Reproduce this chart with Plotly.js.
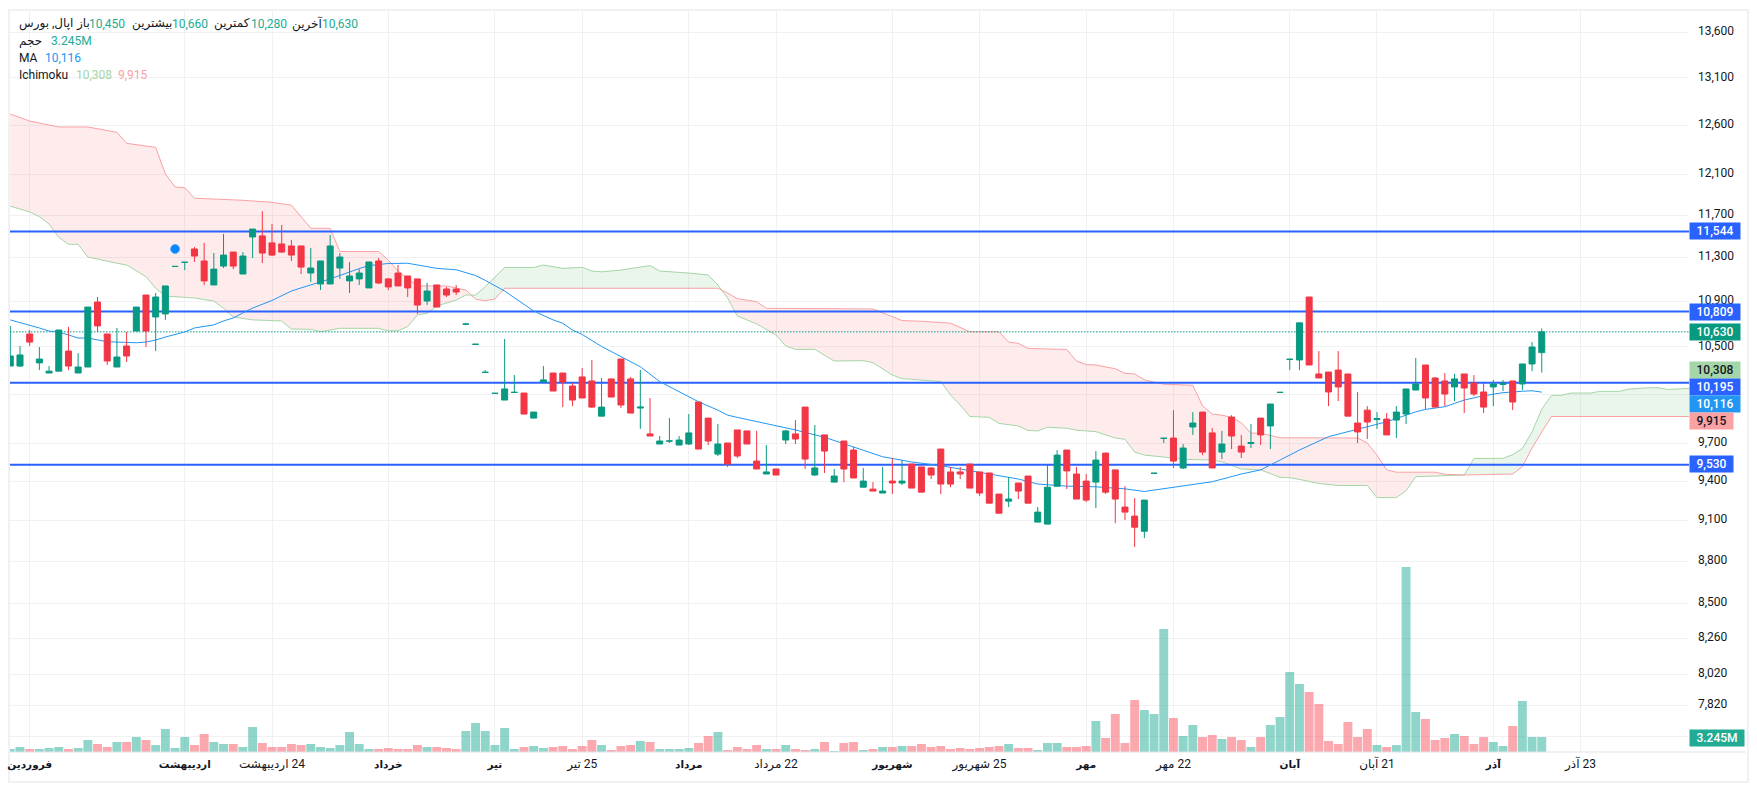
<!DOCTYPE html>
<html><head><meta charset="utf-8">
<script src="https://cdn.plot.ly/plotly-3.0.1.min.js"></script>
<style>
html,body{margin:0;padding:0;background:#fff;overflow:hidden}
#frame{position:absolute;left:8px;top:9px;width:1737px;height:770px;border:2px solid #f0f1f5}
#chart{position:absolute;left:0;top:0;width:1757px;height:790px}
</style></head><body><div id="frame"></div><div id="chart"></div>
<script>
const opens=[10335,10335,10611,10362,10276,10292,10463,10276,10327,10894,
10611,10327,10507,10637,10957,10761,10788,11217,11255,11380,
11268,11048,11221,11351,11148,11493,11503,11437,11427,11408,
11408,11157,11057,11057,11203,11085,11103,11021,11268,11103,
11157,11130,11103,10903,11048,11011,11011,10697,10521,10281,
10105,10050,10113,10108,9902,10201,10276,10276,10167,10243,
10209,9918,10226,10395,10226,9984,9774,9693,9717,9685,
9693,10034,9902,9613,9701,9806,9798,9558,9457,9496,
9725,9774,9992,9449,9766,9394,9717,9645,9355,9340,
9310,9402,9387,9535,9512,9504,9653,9473,9473,9535,
9473,9465,9302,9248,9387,9441,9090,9075,9362,9645,
9457,9402,9394,9621,9489,9203,9135,9022,9462,9738,
9741,9504,9830,9951,9782,9629,9910,9677,9697,9902,
9838,10113,10392,10387,10939,10268,10284,10301,10268,9862,
9967,9890,9894,9886,9935,10133,10344,10234,10209,10159,
10268,10192,10117,10159,10180,10209,10184,10353,10450];
const highs=[10682,10507,10646,10498,10335,10646,10673,10446,10849,10939,
10611,10664,10629,10849,10957,10975,11039,11218,11256,11399,
11437,11342,11521,11351,11351,11568,11739,11616,11607,11465,
11408,11389,11268,11512,11342,11259,11193,11259,11296,11112,
11231,11130,11103,11066,11048,11030,11048,10709,10522,10301,
10106,10568,10259,10108,9951,10335,10276,10276,10192,10318,
10387,10234,10226,10395,10243,10301,10067,9757,9902,9757,
9935,10034,9902,9854,9701,9806,9798,9798,9685,9496,
9806,9886,9992,9846,9766,9496,9717,9669,9504,9394,
9512,9582,9566,9535,9512,9512,9653,9512,9512,9535,
9473,9465,9302,9433,9387,9441,9203,9527,9645,9645,
9512,9457,9637,9621,9489,9363,9271,9256,9463,9739,
9967,9693,9951,9951,9822,9798,9926,9766,9854,9902,
10017,10114,10393,10709,10939,10463,10284,10463,10268,10117,
10000,9951,9943,10000,10142,10404,10344,10243,10276,10268,
10268,10259,10192,10218,10218,10209,10353,10541,10660];
const lows=[10335,10327,10507,10301,10276,10292,10301,10276,10327,10629,
10344,10327,10370,10637,10498,10463,10735,11217,11184,11259,
11048,11048,11203,11193,11148,11296,11249,11314,11342,11268,
11148,11076,11002,11057,11103,10975,11048,11021,11057,11002,
11039,10939,10788,10867,10849,10939,10957,10697,10521,10281,
10105,10050,10113,9935,9902,10201,10125,9992,10000,10067,
9984,9918,10075,9984,9943,9814,9757,9693,9701,9685,
9685,9653,9685,9598,9512,9582,9693,9496,9457,9449,
9693,9693,9496,9441,9465,9394,9394,9426,9355,9325,
9310,9302,9371,9348,9317,9418,9302,9355,9418,9348,
9287,9233,9157,9203,9264,9233,9090,9075,9362,9340,
9264,9241,9195,9302,9082,9105,8906,8971,9462,9701,
9504,9496,9766,9605,9504,9574,9653,9582,9661,9685,
9653,10113,10301,10301,10344,10234,10000,10042,9918,9701,
9733,9814,9766,9741,9854,10133,9975,9992,10000,10042,
9943,10083,9943,10000,10125,9967,10133,10292,10280];
const closes=[10421,10430,10541,10395,10292,10646,10335,10327,10849,10682,
10378,10412,10421,10849,10637,10939,11039,11218,11256,11314,
11085,11193,11323,11221,11314,11568,11342,11323,11351,11323,
11212,11203,11268,11408,11305,11130,11157,11259,11066,11030,
11039,11021,10867,10993,10849,10957,10984,10698,10522,10282,
10106,10142,10114,9935,9951,10218,10125,10201,10050,10067,
9992,9992,10075,10009,9943,9992,9757,9717,9717,9725,
9782,9653,9717,9693,9535,9598,9693,9496,9473,9449,
9798,9733,9574,9504,9637,9441,9496,9426,9402,9325,
9325,9387,9402,9348,9317,9449,9379,9379,9457,9348,
9310,9233,9157,9264,9325,9233,9165,9355,9605,9481,
9264,9256,9566,9317,9264,9165,9052,9256,9463,9739,
9558,9661,9862,9629,9504,9693,9757,9629,9705,9766,
10017,10114,10393,10709,10344,10234,10117,10159,9918,9790,
9870,9898,9766,9951,10142,10184,10067,9992,10100,10226,
10150,10100,9992,10184,10188,10034,10353,10498,10630];
const volumes=[.65,1.08,.65,.65,.87,1.08,.65,.87,2.60,1.73,
1.08,2.16,2.16,3.24,2.60,1.51,4.97,.87,3.24,1.51,
3.89,2.16,1.73,1.73,1.08,5.41,1.95,1.08,1.08,1.73,
1.51,1.73,1.08,.87,1.51,4.33,1.73,.65,.65,.87,
.65,.65,1.51,1.08,1.08,.87,.65,4.54,6.27,4.54,
1.51,5.19,.65,1.08,1.30,.87,1.08,1.30,.65,1.30,
2.60,1.51,.43,1.30,1.51,2.38,2.16,.65,.65,.65,
.87,1.95,3.46,4.33,.43,1.08,.65,1.51,.65,.65,
1.51,.65,.43,.65,2.16,.22,1.95,2.16,.43,.65,
1.08,1.08,1.30,1.30,1.73,1.08,1.30,.65,.87,.65,
.87,1.08,1.30,1.73,.87,.87,.43,1.95,1.95,1.08,
1.08,1.30,6.71,3.03,8.22,1.95,11.25,9.08,8.22,26.6,
7.35,3.46,5.84,3.24,3.68,2.81,3.24,2.60,1.08,3.24,
5.84,7.57,17.30,14.71,12.98,10.38,2.38,1.73,6.49,3.24,
4.97,1.51,1.08,1.51,40.0,8.65,7.14,2.60,3.03,3.89,
3.46,1.73,3.24,2.16,1.30,5.62,11.03,3.24,3.245];
const maIdx=[0,2,3,4,5,6,7,8,9,10,11,12,13,14,15,16,18,19,21,22,23,24,25,27,29,30,33,36,37,39,41,44,46,48,49,51,54,56,57,58,59,61,63,65,67,71,73,74,75,78,81,84,87,90,93,96,99,102,104,106,109,112,115,117,119,121,124,127,129,131,133,136,139,142,145,146,148,150,152,154,156,157,158];
const maVal=[10735,10691,10664,10637,10629,10603,10576,10576,10559,10544,10541,10535,10535,10541,10559,10585,10629,10664,10691,10726,10752,10797,10840,10908,10993,11021,11103,11198,11225,11245,11247,11200,11187,11134,11090,10993,10814,10735,10705,10646,10607,10503,10415,10329,10204,10036,9967,9926,9908,9859,9806,9747,9672,9592,9551,9522,9483,9447,9418,9379,9363,9358,9342,9322,9345,9363,9397,9457,9489,9566,9645,9752,9812,9872,9953,9973,9995,10050,10086,10111,10123,10127,10116];
const spanBIdx=[0,2,5,8,11,12,15,16,17,18,19,24,27,29,31,33,34,38,39,40,42,45,47,48,49,50,51,73,74,75,77,78,89,92,94,97,99,102,103,104,105,109,110,111,112,114,115,116,117,119,122,123,124,125,126,127,128,129,131,139,140,141,142,143,147,148,150,155,156,157,158,159,173.19];
const spanBVal=[12716,12643,12581,12581,12526,12413,12372,12104,11975,11968,11865,11845,11825,11798,11575,11575,11356,11356,11277,11175,11039,11039,11002,10919,10906,10921,11018,11018,10975,10925,10897,10838,10832,10729,10723,10706,10631,10631,10541,10530,10486,10477,10378,10347,10344,10312,10273,10268,10218,10182,10173,10003,9935,9926,9908,9864,9780,9780,9743,9741,9701,9605,9489,9471,9471,9455,9449,9457,9515,9661,9790,9915,9915];
const spanAIdx=[0,2,3,4,5,6,7,8,11,12,14,15,16,18,19,21,22,23,25,28,29,31,32,34,38,39,40,41,42,43,44,46,47,48,49,51,54,55,57,59,60,61,63,66,67,70,72,73,74,75,77,79,80,81,83,85,88,89,91,92,94,96,97,98,99,101,102,104,105,106,107,109,110,112,114,115,116,117,119,121,124,125,127,129,131,132,133,135,137,140,141,143,144,145,150,151,154,155,156,157,158,159,160,161,163,164,166,167,169,170,171,173.19];
const spanAVal=[11788,11732,11687,11616,11490,11424,11424,11305,11247,11231,11124,11018,10948,10933,10930,10903,10838,10761,10735,10726,10655,10652,10631,10661,10661,10640,10640,10676,10779,10794,10858,10912,10957,10957,11032,11208,11208,11231,11200,11210,11175,11168,11184,11226,11175,11157,11139,11048,10930,10770,10700,10603,10507,10478,10478,10378,10381,10364,10259,10229,10215,10204,10092,10009,9915,9908,9859,9838,9802,9798,9828,9820,9804,9792,9741,9731,9629,9605,9590,9572,9566,9553,9496,9489,9431,9428,9415,9384,9368,9368,9275,9275,9327,9436,9449,9578,9580,9608,9659,9790,9975,10089,10089,10108,10108,10122,10122,10141,10152,10152,10138,10147];
const levelValues=[11544,10809,10195,9530];
const lastPrice=10630;
const markerIdx=[17];const markerVal=[11380];
const tickIdx=[2,18,27,39,50,59,70,79,91,100,111,120,132,141,153,162];
const monthStyle=s=>'<span style="font-size:10.5px"><b>'+s+'</b></span>';
const RLM='\u200F';
const tickLabels=[monthStyle('فروردین'),monthStyle('اردیبهشت'),RLM+'24 اردیبهشت',monthStyle('خرداد'),monthStyle('تیر'),RLM+'25 تیر',monthStyle('مرداد'),RLM+'22 مرداد',monthStyle('شهریور'),RLM+'25 شهریور',monthStyle('مهر'),RLM+'22 مهر',monthStyle('آبان'),RLM+'21 آبان',monthStyle('آذر'),RLM+'23 آذر'];
const priceTicks=[13600,13100,12600,12100,11700,11300,10900,10500,10100,9700,9400,9100,8800,8500,8260,8020,7820,7620];
const hiddenTicks=[10100,7620];

const GREEN='#089981',RED='#F23645',BLUE='#2962FF',MA='#2196F3',LG='#A5D6A7',LR='#FAA1A4';
const idx=opens.map((_,i)=>i);
const FONT='Roboto, "Noto Sans", "DejaVu Sans", sans-serif';
const xR=[-0.03,173.19],yR=[3.87644,4.14151];

function at(xs,ys,q){for(let k=1;k<xs.length;k++){if(q<=xs[k]){const t=(q-xs[k-1])/(xs[k]-xs[k-1]);return ys[k-1]+t*(ys[k]-ys[k-1]);}}return ys[ys.length-1];}
function cloud(a,b,color){
  const ax=[a,...spanAIdx.filter(v=>v>a&&v<b),b],ay=ax.map(q=>at(spanAIdx,spanAVal,q));
  const bx=[a,...spanBIdx.filter(v=>v>a&&v<b),b],by=bx.map(q=>at(spanBIdx,spanBVal,q));
  return {x:ax.concat(bx.slice().reverse()),y:ay.concat(by.slice().reverse()),type:'scatter',mode:'none',fill:'toself',fillcolor:color,hoverinfo:'skip'};
}
const fr='rgba(242,54,69,0.10)',fg='rgba(67,160,71,0.11)';
const traces=[
  cloud(0,47.5,fr),cloud(47.5,73.4,fg),cloud(73.4,150,fr),cloud(150,173.19,fg),
  {x:spanAIdx,y:spanAVal,type:'scatter',mode:'lines',line:{color:LG,width:1}},
  {x:spanBIdx,y:spanBVal,type:'scatter',mode:'lines',line:{color:LR,width:1}},
  {x:xR,y:[lastPrice,lastPrice],type:'scatter',mode:'lines',line:{color:GREEN,width:1,dash:'1.5px,1.5px'}},
];
levelValues.forEach(v=>traces.push({x:xR,y:[v,v],type:'scatter',mode:'lines',line:{color:BLUE,width:2}}));
traces.push({x:maIdx,y:maVal,type:'scatter',mode:'lines',line:{color:MA,width:1}});
traces.push({x:markerIdx,y:markerVal,type:'scatter',mode:'markers',marker:{color:'#0A84FF',size:9,line:{color:'#5AAEFF',width:1}}});
traces.push({x:idx,y:volumes,type:'bar',yaxis:'y2',marker:{color:idx.map(i=>closes[i]>=opens[i]?'rgba(34,171,148,0.5)':'rgba(247,82,95,0.5)'),line:{width:0}}});
traces.push({x:idx,open:opens,high:highs,low:lows,close:closes,type:'candlestick',yaxis:'y3',whiskerwidth:0,
  increasing:{line:{color:GREEN,width:1},fillcolor:GREEN},decreasing:{line:{color:RED,width:1},fillcolor:RED}});

const L=10,R=1689,T=10,B=752;
const px=x=>(x-L)/(R-L),py=y=>1-(y-T)/(B-T);
const ann=[];
function txt(x,y,text,color,extra){ann.push(Object.assign({xref:'paper',yref:'paper',x:px(x),y:py(y),xanchor:'left',yanchor:'middle',text,showarrow:false,font:{family:FONT,size:12,color},align:'left',borderpad:0},extra||{}));}
const VT='#22AB94',TXT='#131722';
txt(18,24,'اپال, بورس',TXT);txt(75,24,'باز',TXT);txt(88,24,'10,450',VT);txt(131,24,'بیشترین',TXT);txt(171,24,'10,660',VT);txt(213,24,'کمترین',TXT);txt(250,24,'10,280',VT);txt(291,24,'آخرین',TXT);txt(321,24,'10,630',VT);
txt(18,41,'حجم',TXT);txt(50,41,'3.245M',VT);
txt(18,58,'MA',TXT);txt(44,58,'10,116',MA);
txt(18,75,'Ichimoku',TXT);txt(75,75,'10,308',LG);txt(117,75,'9,915',LR);
function tag(y,text,bg,color,w){ann.push({xref:'paper',yref:'paper',x:1,y:py(y),xanchor:'left',yanchor:'middle',text,showarrow:false,bgcolor:bg,width:w,height:16,align:'center',borderpad:0,font:{family:FONT,size:12,color,weight:500}});}
tag(231,'11,544',BLUE,'#fff',50);tag(311.5,'10,809',BLUE,'#fff',50);tag(331.5,'10,630',GREEN,'#fff',50);
tag(369.5,'10,308',LG,TXT,50);tag(386.5,'10,195',BLUE,'#fff',50);tag(403.5,'10,116',MA,'#fff',50);
tag(420.7,'9,915',LR,TXT,43);tag(464.3,'9,530',BLUE,'#fff',43);tag(737.5,'3.245M',VT,'#fff',54);

const layout={width:1757,height:790,margin:{l:L,r:1757-R,t:T,b:790-B,pad:0},paper_bgcolor:'rgba(0,0,0,0)',plot_bgcolor:'rgba(0,0,0,0)',
  showlegend:false,hovermode:false,bargap:0.08,boxgap:0.115,font:{family:FONT,size:12,color:TXT},
  xaxis:{range:xR,rangeslider:{visible:false},tickmode:'array',tickvals:tickIdx,ticktext:tickLabels,showgrid:true,gridcolor:'#f1f1f3',gridwidth:1,zeroline:false,showline:false,ticks:'',ticklen:0,tickangle:0,tickfont:{family:FONT,size:12,color:TXT},ticklabelstandoff:3},
  yaxis:{type:'log',range:yR,side:'right',tickmode:'array',tickvals:priceTicks,ticktext:priceTicks.map(v=>hiddenTicks.includes(v)?'':v.toLocaleString('en-US')),showgrid:true,gridcolor:'#f1f1f3',zeroline:false,showline:false,ticks:'',tickfont:{family:FONT,size:12,color:TXT},ticklabelstandoff:8},
  yaxis2:{overlaying:'y',range:[0,160.5],visible:false,fixedrange:true},
  yaxis3:{overlaying:'y',type:'log',range:yR,visible:false,fixedrange:true},
  shapes:[{type:'line',xref:'paper',yref:'paper',x0:0,x1:px(1746),y0:0,y1:0,line:{color:'#e0e3eb',width:1}}],
  annotations:ann};
Plotly.newPlot('chart',traces,layout,{displayModeBar:false,staticPlot:true}).then(gd=>{
  gd.querySelectorAll('.ytick text').forEach(t=>{t.setAttribute('y',(+t.getAttribute('y')-1.5));});
});
</script></body></html>
